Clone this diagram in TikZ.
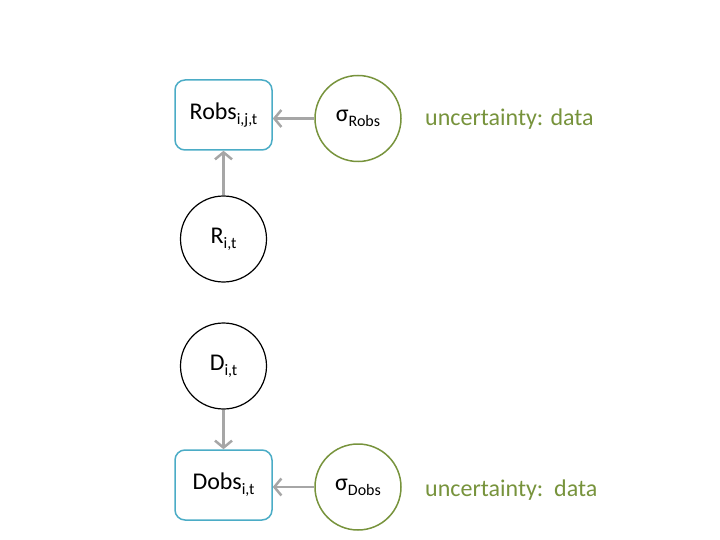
\documentclass[tikz,border=0pt]{standalone}
\usepackage{fontspec}
\setmainfont{Carlito}
\usetikzlibrary{arrows.meta}
\definecolor{azulDato}{RGB}{75,172,198}
\definecolor{verdeOliva}{RGB}{119,147,60}
\definecolor{grisFlecha}{RGB}{166,166,166}
\newcommand{\subidx}[1]{\raisebox{-5pt}{\fontsize{16}{16}\selectfont #1}}

\begin{document}
\begin{tikzpicture}[x=1pt, y=-1pt,
    every node/.style={font=\fontsize{24}{28}\selectfont},
    dato/.style={draw=azulDato, line width=1.5pt, rounded corners=10pt, minimum width=97pt, minimum height=70pt, inner sep=0pt},
    latente/.style={circle, draw=black, line width=1.2pt, minimum size=86pt, inner sep=0pt},
    incertidumbre/.style={circle, draw=verdeOliva, line width=1.5pt, minimum size=86pt, inner sep=0pt},
    etiqueta/.style={anchor=base west, inner sep=0pt, text=verdeOliva},
    flecha/.style={-{Straight Barb[length=7pt, width=17pt]}, draw=grisFlecha, line width=2.5pt}
]
\useasboundingbox (0,0) rectangle (720,540);
% Observaciones R
\node[dato] (robs) at (223.5,115) {Robs\subidx{i,j,t}};
\node[incertidumbre] (sigmaRobs) at (358,118.5) {σ\subidx{Robs}};
\node[etiqueta] (etiquetaRobs) at (425,126) {uncertainty: data};
\node[latente] (r) at (223.5,239) {R\subidx{i,t}};
% Observaciones D
\node[latente] (d) at (223.5,366) {D\subidx{i,t}};
\node[dato] (dobs) at (223.5,485) {Dobs\subidx{i,t}};
\node[incertidumbre] (sigmaDobs) at (358,487) {σ\subidx{Dobs}};
\node[etiqueta] (etiquetaDobs) at (425,496) {uncertainty:\ \ data};
% Aristas
\draw[flecha] (sigmaRobs.west) -- (sigmaRobs.west -| robs.east);
\draw[flecha] (r) -- (robs);
\draw[flecha] (d) -- (dobs);
\draw[flecha] (sigmaDobs.west) -- (sigmaDobs.west -| dobs.east);
\end{tikzpicture}
\end{document}
